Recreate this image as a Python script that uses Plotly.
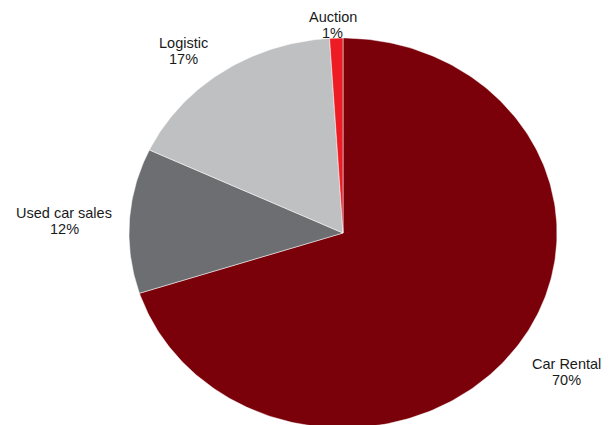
import numpy as np
import plotly.graph_objects as go

# Revenue split by business line (percent), in clockwise order from 12 o'clock
segments = ["Car Rental", "Used car sales", "Logistic", "Auction"]
shares = [70, 12, 17, 1]

colors = ["#7A0009", "#6D6E71", "#BFC0C2", "#ED1C24"]
# label placement: radius multiple of the pie, then a small pixel nudge
label_radius = [1.21, 1.32, 1.21, 1.07]
label_nudge = [(14, 0), (3, -4), (-14, -13), (-3, -1)]
LINE_GAP = 8  # half the distance between the name line and the percent line

fig = go.Figure()
font = dict(family="Liberation Sans, Arial, sans-serif", size=14.5, color="#1a1a1a")

total = float(sum(shares))
start = 0.0
for name, val, col, lr, (nx, ny) in zip(segments, shares, colors, label_radius, label_nudge):
    frac = val / total
    a0, a1 = start * 2 * np.pi, (start + frac) * 2 * np.pi
    t = np.linspace(a0, a1, max(8, int(400 * frac)))
    # clockwise from top: x = sin, y = cos
    xs = np.concatenate([[0.0], np.sin(t), [0.0]])
    ys = np.concatenate([[0.0], np.cos(t), [0.0]])
    fig.add_trace(go.Scatter(
        x=xs, y=ys, mode="lines", fill="toself", fillcolor=col,
        line=dict(color="white", width=0.5), hoverinfo="skip",
        showlegend=False,
    ))
    mid = (a0 + a1) / 2
    lx, ly = lr * np.sin(mid), lr * np.cos(mid)
    for txt, dy in ((name, LINE_GAP), (f"{val}%", -LINE_GAP)):
        fig.add_annotation(
            x=lx, y=ly, text=txt, showarrow=False, font=font,
            xanchor="center", yanchor="middle",
            xshift=nx, yshift=ny + dy,
        )
    start += frac

# axis ranges chosen so the unit circle renders as a slightly wide ellipse
cx, cy, rx, ry = 343.0, 233.0, 214.0, 195.0
W, H = 614, 425
fig.update_xaxes(range=[-cx / rx, (W - cx) / rx], visible=False, fixedrange=True)
fig.update_yaxes(range=[-(H - cy) / ry, cy / ry], visible=False, fixedrange=True)

fig.update_layout(
    width=W, height=H,
    margin=dict(l=0, r=0, t=0, b=0),
    paper_bgcolor="white", plot_bgcolor="white",
)

fig.write_html("out.html")
